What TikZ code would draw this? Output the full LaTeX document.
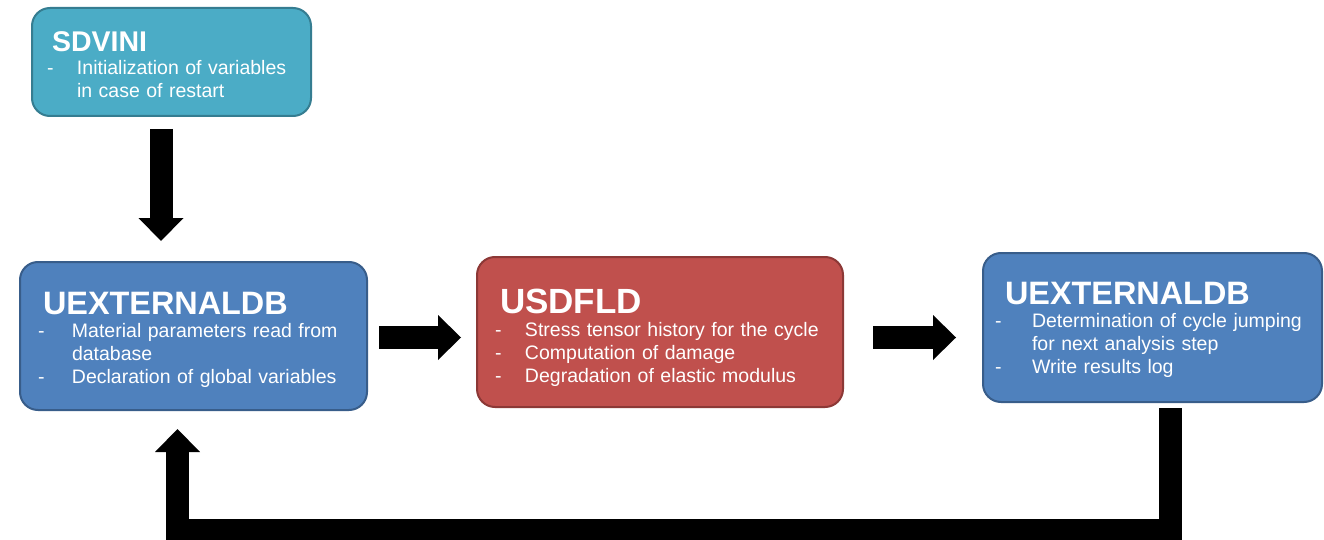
\documentclass[tikz,border=0pt]{standalone}
\usepackage{fontspec}
\setmainfont{Liberation Sans}
\usetikzlibrary{arrows.meta}
\definecolor{tealfill}{HTML}{4BACC6}
\definecolor{tealdraw}{HTML}{357D91}
\definecolor{bluefill}{HTML}{4F81BD}
\definecolor{bluedraw}{HTML}{385D8A}
\definecolor{redfill}{HTML}{C0504D}
\definecolor{reddraw}{HTML}{8C3836}
\newcommand\bodyfont{\fontsize{19.5}{23}\selectfont}
\tikzset{
  procbox/.style={rounded corners=18pt, line width=2pt, text=white, inner xsep=0pt, inner ysep=0pt, align=left, font=\bodyfont},
  blockarrow/.style={line width=23pt, draw=black, -{Triangle[length=23pt,width=45pt,line width=0pt]}},
}
\begin{document}
\begin{tikzpicture}[x=1pt,y=-1pt]
\useasboundingbox (0,0) rectangle (1324,540);
\fill[white] (0,0) rectangle (1324,540);

\node[procbox, fill=tealfill, draw=tealdraw, minimum width=279pt, text width=279pt, minimum height=108pt] (sdvini) at (171.5,62)
{\noindent\hspace*{15pt}\begin{tabular}{@{}p{30pt}@{}l@{}}
\multicolumn{2}{@{\hspace{5pt}}l@{}}{\fontsize{28.5}{30}\selectfont\bfseries SDVINI}\\
- & Initialization of variables\\
  & in case of restart
\end{tabular}\par\vspace*{-12pt}};

\node[procbox, fill=bluefill, draw=bluedraw, minimum width=347pt, text width=347pt, minimum height=148pt] (ue1) at (193.5,336)
{\noindent\hspace*{18pt}\begin{tabular}{@{}p{34pt}@{}l@{}}
\multicolumn{2}{@{\hspace{5pt}}l@{}}{\fontsize{32.4}{34}\selectfont\bfseries UEXTERNALDB}\\
- & Material parameters read from\\
  & database\\
- & Declaration of global variables
\end{tabular}\par\vspace*{-10pt}};

\node[procbox, fill=redfill, draw=reddraw, minimum width=366pt, text width=366pt, minimum height=150pt] (usd) at (660,332)
{\noindent\hspace*{18pt}\begin{tabular}{@{}p{30pt}@{}l@{}}
\multicolumn{2}{@{\hspace{5pt}}l@{}}{\fontsize{35}{37}\selectfont\bfseries USDFLD}\\
- & Stress tensor history for the cycle\\
- & Computation of damage\\
- & Degradation of elastic modulus
\end{tabular}\par\vspace*{-14pt}};

\node[procbox, fill=bluefill, draw=bluedraw, minimum width=339pt, text width=339pt, minimum height=149pt] (ue2) at (1152.5,327.5)
{\noindent\hspace*{12pt}\begin{tabular}{@{}p{37pt}@{}l@{}}
\multicolumn{2}{@{\hspace{10pt}}l@{}}{\fontsize{32.4}{34}\selectfont\bfseries UEXTERNALDB}\\
- & Determination of cycle jumping\\
  & for next analysis step\\
- & Write results log
\end{tabular}\par\vspace*{-8pt}};

\draw[blockarrow] ([shift={(-10.5,12)}]sdvini.south) -- ([shift={(-32.5,-20)}]ue1.north);
\draw[blockarrow] ([shift={(11,1.5)}]ue1.east) -- ([shift={(-15,5.5)}]usd.west);
\draw[blockarrow] ([shift={(29,5.5)}]usd.east) -- ([shift={(-26,10)}]ue2.west);

\coordinate (loopA) at ([shift={(18,5)}]ue2.south);
\coordinate (loopB) at ([shift={(-16,18)}]ue1.south);
\coordinate (loopY) at (0,530);
\draw[blockarrow, line join=miter] (loopA) -- (loopA |- loopY) -- (loopB |- loopY) -- (loopB);
\end{tikzpicture}
\end{document}
